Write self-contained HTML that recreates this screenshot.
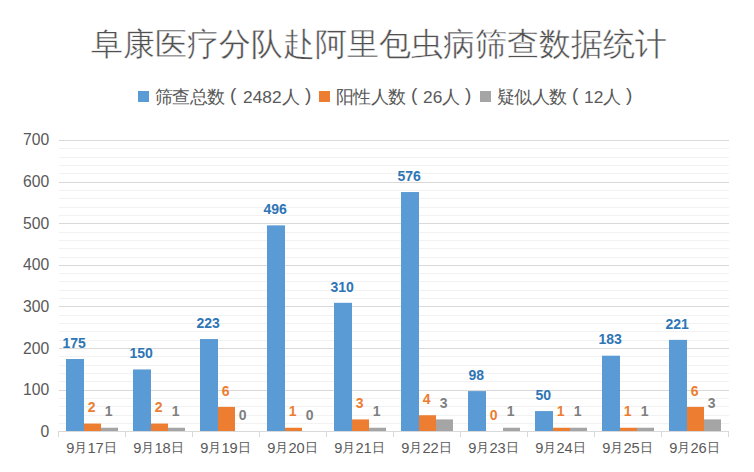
<!DOCTYPE html>
<html><head><meta charset="utf-8">
<style>
html,body{margin:0;padding:0;background:#fff;}
body{width:754px;height:472px;overflow:hidden;position:relative;font-family:"Liberation Sans",sans-serif;}
svg{position:absolute;left:0;top:0;}
.dl{font-family:"Liberation Sans",sans-serif;font-weight:bold;font-size:14px;text-anchor:middle;}
.yl{font-family:"Liberation Sans",sans-serif;font-size:15.7px;text-anchor:end;fill:#595959;}
.cj{font-size:12.5px;}
.xl{font-family:"Liberation Sans",sans-serif;font-size:14.67px;text-anchor:middle;fill:#595959;}
.title{position:absolute;left:2px;width:754px;top:24px;text-align:center;font-family:"Liberation Serif",serif;font-size:32px;color:#505050;-webkit-text-stroke:0.4px #fff;white-space:nowrap;line-height:40px;}
.sq{position:absolute;top:91px;width:11px;height:11px;}
.lt{position:absolute;top:86px;font-size:17.33px;line-height:22px;color:#595959;white-space:nowrap;}
.cjl{font-size:18px;letter-spacing:-0.6px;}
.pa{font-size:19px;top:84px;}
</style></head><body>
<div class="title">阜康医疗分队赴阿里包虫病筛查数据统计</div>
<div class="sq" style="left:138px;background:#5B9BD5"></div>
<div class="sq" style="left:319px;background:#ED7D31"></div>
<div class="sq" style="left:480px;background:#A5A5A5"></div>
<div class="lt" style="left:155px"><span class="cjl">筛查总数</span></div>
<div class="lt pa" style="left:230px">(</div>
<div class="lt" style="left:243px">2482<span class="cjl">人</span></div>
<div class="lt pa" style="left:305px">)</div>
<div class="lt" style="left:336px"><span class="cjl">阳性人数</span></div>
<div class="lt pa" style="left:411px">(</div>
<div class="lt" style="left:423px">26<span class="cjl">人</span></div>
<div class="lt pa" style="left:465px">)</div>
<div class="lt" style="left:497px"><span class="cjl">疑似人数</span></div>
<div class="lt pa" style="left:572px">(</div>
<div class="lt" style="left:584px">12<span class="cjl">人</span></div>
<div class="lt pa" style="left:626px">)</div>
<svg width="754" height="472" viewBox="0 0 754 472">
<rect x="59" y="423" width="670" height="1" fill="#F2F2F2"/>
<rect x="59" y="415" width="670" height="1" fill="#F2F2F2"/>
<rect x="59" y="406" width="670" height="1" fill="#F2F2F2"/>
<rect x="59" y="398" width="670" height="1" fill="#F2F2F2"/>
<rect x="59" y="390" width="670" height="1" fill="#D9D9D9"/>
<rect x="59" y="381" width="670" height="1" fill="#F2F2F2"/>
<rect x="59" y="373" width="670" height="1" fill="#F2F2F2"/>
<rect x="59" y="365" width="670" height="1" fill="#F2F2F2"/>
<rect x="59" y="356" width="670" height="1" fill="#F2F2F2"/>
<rect x="59" y="348" width="670" height="1" fill="#D9D9D9"/>
<rect x="59" y="340" width="670" height="1" fill="#F2F2F2"/>
<rect x="59" y="331" width="670" height="1" fill="#F2F2F2"/>
<rect x="59" y="323" width="670" height="1" fill="#F2F2F2"/>
<rect x="59" y="315" width="670" height="1" fill="#F2F2F2"/>
<rect x="59" y="306" width="670" height="1" fill="#D9D9D9"/>
<rect x="59" y="298" width="670" height="1" fill="#F2F2F2"/>
<rect x="59" y="290" width="670" height="1" fill="#F2F2F2"/>
<rect x="59" y="281" width="670" height="1" fill="#F2F2F2"/>
<rect x="59" y="273" width="670" height="1" fill="#F2F2F2"/>
<rect x="59" y="265" width="670" height="1" fill="#D9D9D9"/>
<rect x="59" y="257" width="670" height="1" fill="#F2F2F2"/>
<rect x="59" y="248" width="670" height="1" fill="#F2F2F2"/>
<rect x="59" y="240" width="670" height="1" fill="#F2F2F2"/>
<rect x="59" y="232" width="670" height="1" fill="#F2F2F2"/>
<rect x="59" y="223" width="670" height="1" fill="#D9D9D9"/>
<rect x="59" y="215" width="670" height="1" fill="#F2F2F2"/>
<rect x="59" y="207" width="670" height="1" fill="#F2F2F2"/>
<rect x="59" y="198" width="670" height="1" fill="#F2F2F2"/>
<rect x="59" y="190" width="670" height="1" fill="#F2F2F2"/>
<rect x="59" y="182" width="670" height="1" fill="#D9D9D9"/>
<rect x="59" y="173" width="670" height="1" fill="#F2F2F2"/>
<rect x="59" y="165" width="670" height="1" fill="#F2F2F2"/>
<rect x="59" y="157" width="670" height="1" fill="#F2F2F2"/>
<rect x="59" y="148" width="670" height="1" fill="#F2F2F2"/>
<rect x="59" y="140" width="670" height="1" fill="#D9D9D9"/>
<rect x="66" y="359.02" width="18" height="71.98" fill="#5B9BD5"/>
<rect x="84" y="423.57" width="17" height="7.43" fill="#ED7D31"/>
<rect x="101" y="427.74" width="17" height="3.26" fill="#A5A5A5"/>
<rect x="133" y="369.44" width="18" height="61.56" fill="#5B9BD5"/>
<rect x="151" y="423.57" width="17" height="7.43" fill="#ED7D31"/>
<rect x="168" y="427.74" width="17" height="3.26" fill="#A5A5A5"/>
<rect x="200" y="339.04" width="18" height="91.96" fill="#5B9BD5"/>
<rect x="218" y="406.91" width="17" height="24.09" fill="#ED7D31"/>
<rect x="267" y="225.35" width="18" height="205.65" fill="#5B9BD5"/>
<rect x="285" y="427.74" width="17" height="3.26" fill="#ED7D31"/>
<rect x="334" y="302.81" width="18" height="128.19" fill="#5B9BD5"/>
<rect x="352" y="419.41" width="17" height="11.59" fill="#ED7D31"/>
<rect x="369" y="427.74" width="17" height="3.26" fill="#A5A5A5"/>
<rect x="401" y="192.04" width="18" height="238.96" fill="#5B9BD5"/>
<rect x="419" y="415.24" width="17" height="15.76" fill="#ED7D31"/>
<rect x="436" y="419.41" width="17" height="11.59" fill="#A5A5A5"/>
<rect x="468" y="391.09" width="18" height="39.91" fill="#5B9BD5"/>
<rect x="503" y="427.74" width="17" height="3.26" fill="#A5A5A5"/>
<rect x="535" y="411.08" width="18" height="19.92" fill="#5B9BD5"/>
<rect x="553" y="427.74" width="17" height="3.26" fill="#ED7D31"/>
<rect x="570" y="427.74" width="17" height="3.26" fill="#A5A5A5"/>
<rect x="602" y="355.69" width="18" height="75.31" fill="#5B9BD5"/>
<rect x="620" y="427.74" width="17" height="3.26" fill="#ED7D31"/>
<rect x="637" y="427.74" width="17" height="3.26" fill="#A5A5A5"/>
<rect x="669" y="339.87" width="18" height="91.13" fill="#5B9BD5"/>
<rect x="687" y="406.91" width="17" height="24.09" fill="#ED7D31"/>
<rect x="704" y="419.41" width="17" height="11.59" fill="#A5A5A5"/>
<rect x="58" y="431" width="671" height="1" fill="#D9D9D9"/>
<rect x="58" y="431" width="1" height="6" fill="#D9D9D9"/>
<rect x="125" y="431" width="1" height="6" fill="#D9D9D9"/>
<rect x="192" y="431" width="1" height="6" fill="#D9D9D9"/>
<rect x="259" y="431" width="1" height="6" fill="#D9D9D9"/>
<rect x="326" y="431" width="1" height="6" fill="#D9D9D9"/>
<rect x="393" y="431" width="1" height="6" fill="#D9D9D9"/>
<rect x="460" y="431" width="1" height="6" fill="#D9D9D9"/>
<rect x="527" y="431" width="1" height="6" fill="#D9D9D9"/>
<rect x="594" y="431" width="1" height="6" fill="#D9D9D9"/>
<rect x="661" y="431" width="1" height="6" fill="#D9D9D9"/>
<rect x="728" y="431" width="1" height="6" fill="#D9D9D9"/>
<text x="74.20" y="347.72" fill="#2E75B6" class="dl">175</text>
<text x="91.70" y="412.27" fill="#ED7D31" class="dl">2</text>
<text x="108.70" y="416.44" fill="#7F7F7F" class="dl">1</text>
<text x="141.20" y="358.14" fill="#2E75B6" class="dl">150</text>
<text x="158.70" y="412.27" fill="#ED7D31" class="dl">2</text>
<text x="175.70" y="416.44" fill="#7F7F7F" class="dl">1</text>
<text x="208.20" y="327.74" fill="#2E75B6" class="dl">223</text>
<text x="225.70" y="395.61" fill="#ED7D31" class="dl">6</text>
<text x="242.70" y="419.70" fill="#7F7F7F" class="dl">0</text>
<text x="275.20" y="214.05" fill="#2E75B6" class="dl">496</text>
<text x="292.70" y="416.44" fill="#ED7D31" class="dl">1</text>
<text x="309.70" y="419.70" fill="#7F7F7F" class="dl">0</text>
<text x="342.20" y="291.51" fill="#2E75B6" class="dl">310</text>
<text x="359.70" y="408.11" fill="#ED7D31" class="dl">3</text>
<text x="376.70" y="416.44" fill="#7F7F7F" class="dl">1</text>
<text x="409.20" y="180.74" fill="#2E75B6" class="dl">576</text>
<text x="426.70" y="403.94" fill="#ED7D31" class="dl">4</text>
<text x="443.70" y="408.11" fill="#7F7F7F" class="dl">3</text>
<text x="476.20" y="379.79" fill="#2E75B6" class="dl">98</text>
<text x="493.70" y="419.70" fill="#ED7D31" class="dl">0</text>
<text x="510.70" y="416.44" fill="#7F7F7F" class="dl">1</text>
<text x="543.20" y="399.78" fill="#2E75B6" class="dl">50</text>
<text x="560.70" y="416.44" fill="#ED7D31" class="dl">1</text>
<text x="577.70" y="416.44" fill="#7F7F7F" class="dl">1</text>
<text x="610.20" y="344.39" fill="#2E75B6" class="dl">183</text>
<text x="627.70" y="416.44" fill="#ED7D31" class="dl">1</text>
<text x="644.70" y="416.44" fill="#7F7F7F" class="dl">1</text>
<text x="677.20" y="328.57" fill="#2E75B6" class="dl">221</text>
<text x="694.70" y="395.61" fill="#ED7D31" class="dl">6</text>
<text x="711.70" y="408.11" fill="#7F7F7F" class="dl">3</text>
<text x="49.2" y="436.80" class="yl">0</text>
<text x="49.2" y="395.16" class="yl">100</text>
<text x="49.2" y="353.51" class="yl">200</text>
<text x="49.2" y="311.87" class="yl">300</text>
<text x="49.2" y="270.23" class="yl">400</text>
<text x="49.2" y="228.59" class="yl">500</text>
<text x="49.2" y="186.94" class="yl">600</text>
<text x="49.2" y="145.30" class="yl">700</text>
<text x="91.50" y="452.6" class="xl">9<tspan class="cj" dy="-0.8">月</tspan><tspan dy="0.8">17</tspan><tspan class="cj" dy="-0.8">日</tspan></text>
<text x="158.50" y="452.6" class="xl">9<tspan class="cj" dy="-0.8">月</tspan><tspan dy="0.8">18</tspan><tspan class="cj" dy="-0.8">日</tspan></text>
<text x="225.50" y="452.6" class="xl">9<tspan class="cj" dy="-0.8">月</tspan><tspan dy="0.8">19</tspan><tspan class="cj" dy="-0.8">日</tspan></text>
<text x="292.50" y="452.6" class="xl">9<tspan class="cj" dy="-0.8">月</tspan><tspan dy="0.8">20</tspan><tspan class="cj" dy="-0.8">日</tspan></text>
<text x="359.50" y="452.6" class="xl">9<tspan class="cj" dy="-0.8">月</tspan><tspan dy="0.8">21</tspan><tspan class="cj" dy="-0.8">日</tspan></text>
<text x="426.50" y="452.6" class="xl">9<tspan class="cj" dy="-0.8">月</tspan><tspan dy="0.8">22</tspan><tspan class="cj" dy="-0.8">日</tspan></text>
<text x="493.50" y="452.6" class="xl">9<tspan class="cj" dy="-0.8">月</tspan><tspan dy="0.8">23</tspan><tspan class="cj" dy="-0.8">日</tspan></text>
<text x="560.50" y="452.6" class="xl">9<tspan class="cj" dy="-0.8">月</tspan><tspan dy="0.8">24</tspan><tspan class="cj" dy="-0.8">日</tspan></text>
<text x="627.50" y="452.6" class="xl">9<tspan class="cj" dy="-0.8">月</tspan><tspan dy="0.8">25</tspan><tspan class="cj" dy="-0.8">日</tspan></text>
<text x="694.50" y="452.6" class="xl">9<tspan class="cj" dy="-0.8">月</tspan><tspan dy="0.8">26</tspan><tspan class="cj" dy="-0.8">日</tspan></text>
</svg>
</body></html>
